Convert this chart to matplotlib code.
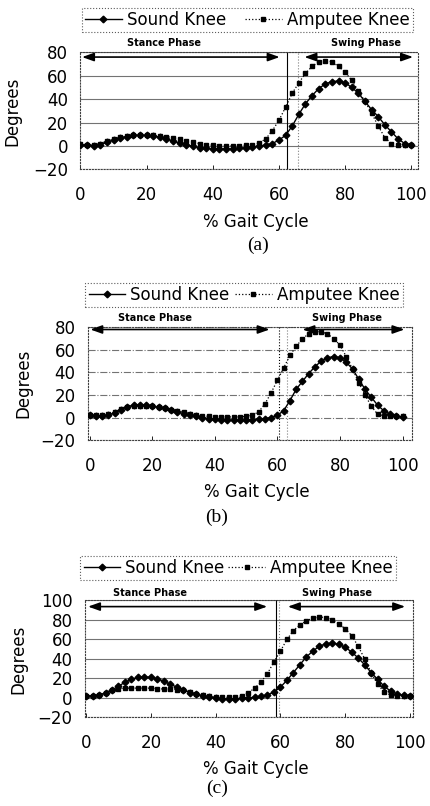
import matplotlib.pyplot as plt
import numpy as np

plt.rcParams['font.family'] = ['DejaVu Sans']

gait = list(range(0, 101, 2))

# panel (a)
sound_a = [1, 0.5, 0, 1, 3, 5, 7, 8, 9, 9, 9, 8.5, 7.5, 6, 4, 2.5, 1, -0.5, -1.5, -2,
           -2.5, -2.5, -2.5, -2.5, -2, -1.5, -1, 0, 0.5, 2, 5, 9, 17, 27, 36, 43, 49, 53,
           55, 55.5, 54, 50, 45, 38, 31, 25, 18, 12, 6, 2, 0.5]
amp_a = [1.5, 1, 1, 2, 4, 6, 7.5, 8.5, 9, 9.5, 9.5, 9, 8.5, 8, 7, 5.5, 4, 3, 2, 1,
         0.5, 0, 0, 0, 0, 0.5, 1, 2.5, 6, 13, 22, 33, 45, 54, 62, 68, 72, 73, 72, 68,
         63, 56, 47, 38, 28, 17, 7, 2, 1, 1, 1]

# panel (b)
sound_b = [2, 1, 1.5, 2.5, 4, 7, 9.5, 11, 11.5, 11, 10, 9, 8, 6.5, 5, 3.5, 2, 1, 0, -1,
           -1.5, -2, -2, -2.5, -2.5, -2.5, -2, -1.5, -1, 0, 2, 6, 15, 25, 32, 39, 45, 50,
           53, 54, 53, 49, 43, 34, 25, 18, 11, 6, 3, 1, 0.5]
amp_b = [2.5, 2, 2, 3, 5, 7.5, 9, 10, 10.5, 10.5, 10, 9, 8, 7, 6, 5, 3.5, 2.5, 1.5, 1,
         0.5, 0.5, 0.5, 0.5, 0.5, 1, 2, 5, 12, 22, 33, 44, 55, 63, 70, 74, 76, 76, 74, 70,
         64, 54, 43, 31, 20, 10, 3, 1.5, 1.5, 1.5, 1]

# panel (c)
sound_c = [2, 2, 3, 5, 8, 12, 16, 19, 21, 21.5, 21, 19.5, 17, 14, 11, 8, 5.5, 3.5, 2, 1,
           0, -1, -1, -1, -0.5, 0, 0.5, 1.5, 3, 6, 11, 18, 26, 34, 42, 48, 53, 55.5, 56,
           55, 52, 47, 41, 34, 26, 19, 12, 7, 4, 2.5, 2]
amp_c = [2, 2, 3, 5, 8, 9.5, 10, 10, 10, 10, 10, 9.5, 9, 9, 8.5, 8, 6, 4, 2.5, 1.5,
         1, 0.5, 0.5, 1, 2, 5, 10, 16, 25, 37, 48, 60, 69, 75, 79, 82, 83, 82.5, 80, 76,
         71, 64, 53, 40, 26, 14, 6, 3, 2, 2, 2]

panels = [
    dict(sound=sound_a, amp=amp_a, pos=[0.187, 0.790, 0.785, 0.145], xlim=(0, 102),
         ylim=(-20, 80), yticks=[-20, 0, 20, 40, 60, 80], toe_off=62.3, toe_off2=65.6,
         stance=(0.5, 60.2), swing=(67.7, 100.5), arrow_y=76, text_x=(25.2, 86.4),
         text_y=1.077, leg=(0.004, 1.171, 0.981), ylab_x=-0.176, xlab_y=-0.376,
         grid_ls='-', caption='(a)', cap_xy=(258, 245)),
    dict(sound=sound_b, amp=amp_b, pos=[0.205, 0.454, 0.753, 0.140], xlim=(-0.5, 103),
         ylim=(-20, 80), yticks=[-20, 0, 20, 40, 60, 80], toe_off=60.4, toe_off2=63.0,
         stance=(0.2, 57.5), swing=(68, 100.6), arrow_y=78, text_x=(20.8, 82.4),
         text_y=1.08, leg=(-0.009, 1.177, 0.981), ylab_x=-0.173, xlab_y=-0.38,
         grid_ls='-.', caption='(b)', cap_xy=(217, 517)),
    dict(sound=sound_c, amp=amp_c, pos=[0.198, 0.110, 0.763, 0.145], xlim=(-0.3, 101),
         ylim=(-20, 100), yticks=[-20, 0, 20, 40, 60, 80, 100], toe_off=58.6, toe_off2=59.6,
         stance=(0.6, 55.9), swing=(62.3, 98.5), arrow_y=93.7, text_x=(19.8, 77.5),
         text_y=1.06, leg=(-0.015, 1.171, 0.963), ylab_x=-0.177, xlab_y=-0.368,
         grid_ls='-', caption='(c)', cap_xy=(217, 788)),
]

fig = plt.figure(figsize=(4.30, 8.06), dpi=100)

for p in panels:
    ax = fig.add_axes(p['pos'])
    for yv in p['yticks']:
        ax.axhline(yv, color='0.45', lw=0.8, ls=p['grid_ls'], zorder=1)
    ax.axvline(p['toe_off'], color='black', lw=0.8,
               ls='-' if p['grid_ls'] == '-' else ':', zorder=2)
    ax.axvline(p['toe_off2'], color='0.5', lw=0.8, ls=':', zorder=2)

    ax.plot(gait, p['sound'], color='black', lw=1.0, marker='D', ms=3.4,
            label='Sound Knee', zorder=4)
    ax.plot(gait, p['amp'], color='black', lw=0.9, ls=':', marker='s', ms=3.4,
            label='Amputee Knee', zorder=3)

    arrow = dict(arrowstyle='<|-|>,head_length=0.7,head_width=0.25', color='black',
                 lw=1.2, shrinkA=0, shrinkB=0)
    ax.annotate('', xy=(p['stance'][1], p['arrow_y']), xytext=(p['stance'][0], p['arrow_y']),
                arrowprops=arrow, zorder=5)
    ax.annotate('', xy=(p['swing'][1], p['arrow_y']), xytext=(p['swing'][0], p['arrow_y']),
                arrowprops=arrow, zorder=5)
    tr = ax.get_xaxis_transform()
    ax.text(p['text_x'][0], p['text_y'], 'Stance Phase', transform=tr, ha='center',
            va='center', fontsize=7, fontweight='bold')
    ax.text(p['text_x'][1], p['text_y'], 'Swing Phase', transform=tr, ha='center',
            va='center', fontsize=7, fontweight='bold')

    ax.set_xlim(*p['xlim'])
    ax.set_ylim(*p['ylim'])
    ax.set_xticks([0, 20, 40, 60, 80, 100])
    ax.set_yticks(p['yticks'])
    ax.set_yticklabels(['\u221220' if v == -20 else str(v) for v in p['yticks']])
    ax.tick_params(axis='x', direction='in', length=3, width=0.6, pad=12, labelsize=12)
    ax.tick_params(axis='y', length=0, pad=9, labelsize=12)
    for s in ax.spines.values():
        s.set_linestyle(':')
        s.set_linewidth(0.8)
        s.set_color('0.25')

    ax.set_ylabel('Degrees', fontsize=12)
    ax.yaxis.set_label_coords(p['ylab_x'], 0.5)
    ax.set_xlabel('% Gait Cycle', fontsize=12)
    ax.xaxis.set_label_coords(0.52, p['xlab_y'])

    x0, y0, w = p['leg']
    leg = ax.legend(loc='lower left', bbox_to_anchor=(x0, y0, w, 0.2), mode='expand',
                    ncol=2, fontsize=12, frameon=True, fancybox=False, borderaxespad=0,
                    handlelength=2.2, handletextpad=0.3, borderpad=0.2, numpoints=1)
    fr = leg.get_frame()
    fr.set_linestyle(':')
    fr.set_edgecolor('0.2')
    fr.set_linewidth(0.8)

    fig.text(p['cap_xy'][0] / 430, 1 - p['cap_xy'][1] / 806, p['caption'],
             ha='center', va='center', fontsize=14, family='Liberation Serif')

fig.savefig('out.png', dpi=100)
